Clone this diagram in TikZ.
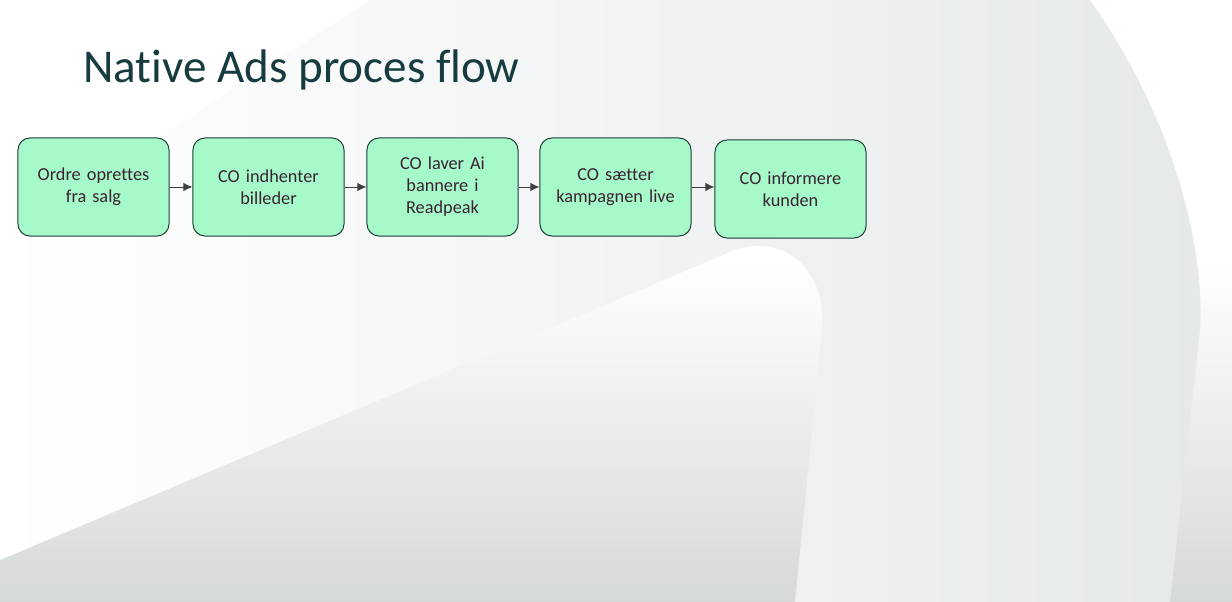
\documentclass[tikz,border=0pt]{standalone}
\usepackage{fontspec}
\setmainfont[Ligatures=NoCommon]{Carlito}
\usetikzlibrary{positioning,arrows.meta}

\definecolor{boxfill}{HTML}{A6F9C9}
\definecolor{boxline}{HTML}{1E3B36}
\definecolor{boxtext}{HTML}{3B2232}
\definecolor{titlecol}{HTML}{173C40}
\definecolor{bgshape}{HTML}{E6E9EA}
\definecolor{bgbottom}{HTML}{D6D9DA}

\begin{document}
\begin{tikzpicture}[x=0.025cm, y=-0.025cm]
    			\tikzstyle{procbox} = [rectangle, rounded corners=0.3cm, draw=boxline, fill=boxfill, minimum width=3.775cm, minimum height=2.45cm, text width=3.4cm, align=center, text=boxtext, font=\fontsize{13}{15.6}\selectfont, line width=0.7pt]
    			\tikzstyle{flow} = [draw=black!75, line width=0.6pt, -{Latex[length=6.5pt, width=6pt]}]
    			% background of the slide
    			\fill[white] (0,0) rectangle (1232,602);
    			\shade[top color=white, bottom color=bgbottom] (0,260) rectangle (1232,602);
    			\shade[left color=white, right color=bgshape] (0,240) -- (370,0) -- (1090,0) .. controls (1175,120) and (1205,250) .. (1200,330) -- (1170,602) -- (795,602) -- (822,330) .. controls (828,262) and (775,232) .. (730,252) -- (0,560) -- cycle;
    			\useasboundingbox (0,0) rectangle (1232,602);
    			% title
    			\node[anchor=base west, inner sep=0, text=titlecol, font=\fontsize{33.5}{40}\selectfont] (title) at (83,83) {Native Ads proces flow};
    			% process steps
    			\foreach \name/\x/\y/\txt in {ordre/93.5/187/{Ordre oprettes\\fra salg}, billeder/268.5/187/{CO indhenter\\billeder}, bannere/442.5/187/{CO laver Ai\\bannere i\\Readpeak}, live/615.5/187/{CO sætter\\kampagnen live}, kunden/790.5/189/{CO informere\\kunden}}
    			{
       			\node[procbox] (\name) at (\x,\y) {\txt};
    			}
    			\foreach \a/\b in {ordre/billeder, billeder/bannere, bannere/live, live/kunden}
    			{
       			\draw[flow] (\a.east) -- (\a.east -| \b.west);
    			}
\end{tikzpicture}
\end{document}
